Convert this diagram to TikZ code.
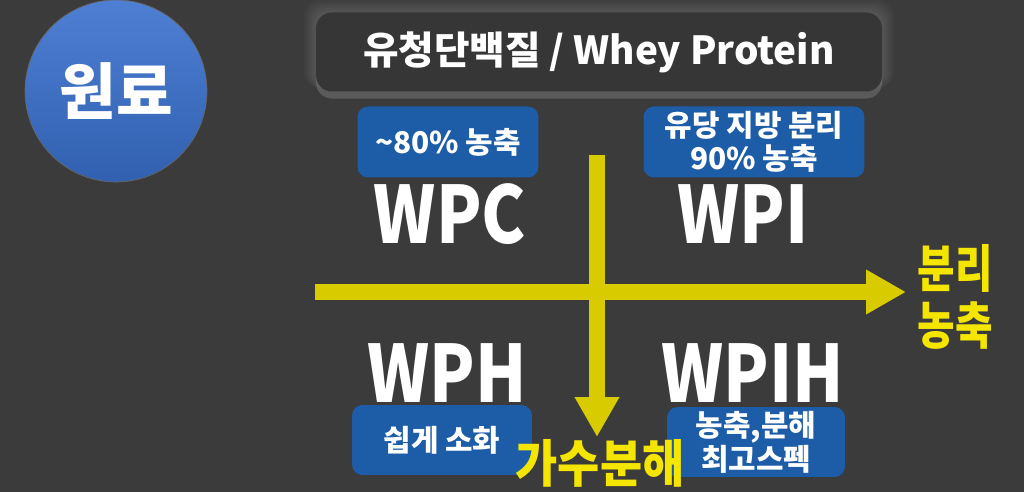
\documentclass[tikz,border=0pt]{standalone}
\usepackage{fontspec}
\setmainfont{Noto Sans CJK KR}
\usepackage{xcolor}
\usetikzlibrary{arrows.meta}
\usetikzlibrary{shadows}
\usetikzlibrary{positioning}
\definecolor{bg}{HTML}{3B3B3B}
\definecolor{titlebox}{HTML}{363636}
\definecolor{tagblue}{HTML}{1D5CA6}
\definecolor{rawblue}{HTML}{3A71CF}
\definecolor{axisyellow}{HTML}{D8CC00}
\definecolor{textyellow}{HTML}{F4E600}

\begin{document}
\begin{tikzpicture}[x=0.02cm, y=-0.02cm,
		tag/.style = {fill=tagblue, rounded corners=6pt, text=white, align=center, inner sep=0pt,
			font=\bfseries\fontsize{17}{19}\selectfont},
		big/.style = {text=white, inner sep=0pt, font=\bfseries\fontsize{45}{45}\selectfont},
		axis/.style = {draw=axisyellow, line width=0.32cm, -{Triangle[width=0.84cm, length=0.8cm]}},
		axislabel/.style = {text=textyellow, inner sep=0pt, align=center,
			font=\bfseries\fontsize{29}{32}\selectfont}]
		\useasboundingbox[fill=bg] (0,0) rectangle (1024,492);

		\node(Raw)		[circle, draw=black!60, thin, top color=rawblue!90!white, bottom color=rawblue!85!black,
						minimum size=3.64cm, text=white, font=\bfseries\fontsize{35}{35}\selectfont]
						at (116,91)		{원료};

		% soft glow round the title
		\foreach \g in {2,4,...,12}
			\fill[white, opacity=0.025, rounded corners=9pt] (316-\g,12-\g) rectangle (882+\g,88);
		\node(Title)	[fill=titlebox, rounded corners=9pt, minimum width=11.32cm, minimum height=1.58cm,
						drop shadow={shadow xshift=0pt, shadow yshift=-4pt, opacity=0.45},
						text=white, font=\bfseries\fontsize{22}{22}\selectfont]
						at (599,52)		{유청단백질 / Whey Protein};

		\node(TagC)		[tag, minimum width=3.62cm, minimum height=1.42cm]	at (448,142)	{\textasciitilde80\% 농축};
		\node(TagI)		[tag, minimum width=4.42cm, minimum height=1.42cm]	at (754,142)	{유당 지방 분리\\90\% 농축};

		\node(WPC)		[big]	at (450,214)	{\scalebox{0.84}[1]{WPC}};
		\node(WPI)		[big]	at (743,214)	{\scalebox{0.84}[1]{WPI}};
		\node(WPH)		[big]	at (447,373)	{\scalebox{0.84}[1]{WPH}};
		\node(WPIH)		[big]	at (753,373)	{\scalebox{0.84}[1]{WPIH}};

		\coordinate(Vstart)	at (597,155);
		\coordinate(Vend)	at (597,437);
		\coordinate(Hstart)	at (315,292);
		\coordinate(Hend)	at (906,292);
		\draw[axis]	(Vstart)	-- (Vend);
		\draw[axis]	(Hstart)	-- (Hend);

		\node(TagH)		[tag, minimum width=3.6cm, minimum height=1.4cm]	at (442,440)	{쉽게 소화};
		\node(TagIH)	[tag, minimum width=3.56cm, minimum height=1.4cm, font=\bfseries\fontsize{17}{18}\selectfont]
						at (756,442)	{농축,분해\\최고스펙};

		\node(Sep)		[axislabel]	at (955,297)	{\scalebox{0.8}[1]{분리}\\\scalebox{0.8}[1]{농축}};
		\node(Hyd)		[axislabel, font=\bfseries\fontsize{29}{29}\selectfont]
						at (600,463)	{\scalebox{0.9}[1]{가수분해}};
	\end{tikzpicture}
\end{document}
